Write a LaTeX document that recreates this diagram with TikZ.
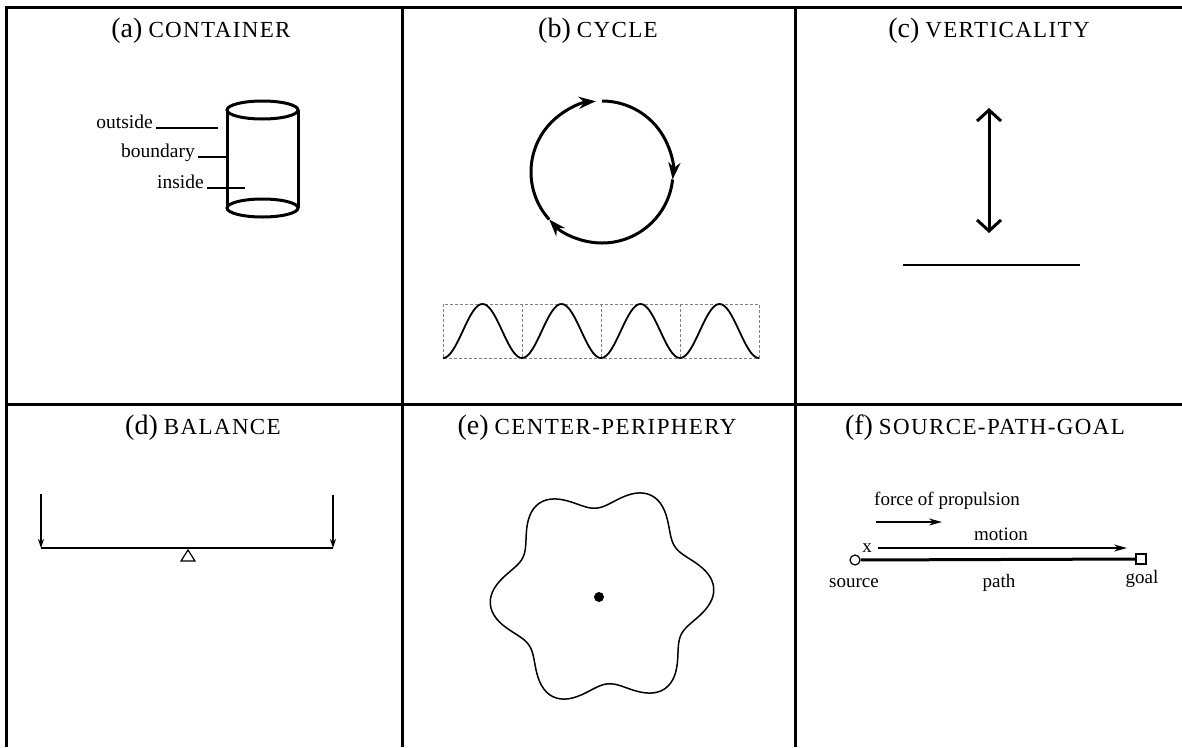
\documentclass[tikz,border=0pt]{standalone}
\usepackage{fontspec}
\setmainfont{Liberation Serif}
\newfontfamily\capsfont[LetterSpace=6]{Liberation Serif}
\usetikzlibrary{arrows.meta,positioning,calc}
\tikzset{
  frame/.style={line width=3pt},
  title/.style={font=\fontsize{28}{32}\selectfont, anchor=base, inner sep=0pt},
  lbl/.style={font=\fontsize{19.5}{21}\selectfont, inner sep=3pt},
  plbl/.style={font=\fontsize{19}{21}\selectfont, inner sep=0pt, anchor=base},
  heavy/.style={line width=3pt},
  leader/.style={line width=2.6pt},
  cyc/.style={line width=3pt, -{Stealth[length=17pt,width=12pt]}},
  gridline/.style={densely dashed, gray, line width=0.6pt},
  wave/.style={line width=1.8pt},
  updown/.style={line width=3pt, {Straight Barb[length=11pt,width=24pt]}-{Straight Barb[length=11pt,width=24pt]}},
  weight/.style={line width=1.3pt, -{Stealth[length=9pt,width=6pt]}},
  thinarrow/.style={line width=1.6pt, -{Stealth[length=13pt,width=7pt]}},
}
\newcommand{\schema}[2]{(#1)\kern6pt{\capsfont\fontsize{23}{26}\selectfont #2}}

\begin{document}
\begin{tikzpicture}[x=1pt,y=-1pt]
  \useasboundingbox (0,0) rectangle (1182,747);
  % table rules
  \draw[frame] (6,747) -- (6,7) -- (1182,7);
  \draw[frame] (6,404) -- (1182,404);
  \draw[frame] (402,7) -- (402,747);
  \draw[frame] (795,7) -- (795,747);

  \node[title] (ta) at (201,37) {\schema{a}{CONTAINER}};
  \node[title] (tb) at (598,37) {\schema{b}{CYCLE}};
  \node[title] (tc) at (989,37) {\schema{c}{VERTICALITY}};
  \node[title] (td) at (203,434) {\schema{d}{BALANCE}};
  \node[title] (te) at (597,434) {\schema{e}{CENTER-PERIPHERY}};
  \node[title] (tf) at (985,434) {\schema{f}{SOURCE-PATH-GOAL}};

  % (a) container
  \draw[heavy] (262.5,110) ellipse[x radius=35.5, y radius=9];
  \draw[heavy] (262.5,208) ellipse[x radius=35.5, y radius=9];
  \draw[heavy] (227,110) -- (227,208);
  \draw[heavy] (298,110) -- (298,208);
  \node[lbl, anchor=base east] (outside) at (156,128) {outside};
  \node[lbl, anchor=base east] (boundary) at (198,157) {boundary};
  \node[lbl, anchor=base east] (inside) at (207,188) {inside};
  \coordinate (outsideEnd) at (218,128);
  \coordinate (boundaryEnd) at (227,157);
  \coordinate (insideEnd) at (245,188);
  \draw[leader] (outside.base east) -- (outsideEnd);
  \draw[leader] (boundary.base east) -- (boundaryEnd);
  \draw[leader] (inside.base east) -- (insideEnd);

  % (b) cycle
  \coordinate (ring) at (602,172);
  \draw[cyc] ([shift={(-90:71)}]ring) arc[start angle=-90, end angle=6, radius=71];
  \draw[cyc] ([shift={(6:71)}]ring) arc[start angle=6, end angle=138, radius=71];
  \draw[cyc] ([shift={(138:71)}]ring) arc[start angle=138, end angle=265, radius=71];
  \draw[gridline] (443,304) rectangle (759,358);
  \foreach \k in {1,2,3}
    \draw[gridline] ({443+79*\k},304) -- ({443+79*\k},358);
  \draw[wave] plot[domain=0:4, samples=161, smooth] ({443+79*\x},{331+27*cos(360*\x)});

  % (c) verticality
  \coordinate (vtop) at (989,108);
  \coordinate (vbot) at (989,233);
  \draw[updown] (vtop) -- (vbot);
  \coordinate (groundL) at (903,265);
  \coordinate (groundR) at (1080,265);
  \draw[line width=1.2pt] (groundL) -- (groundR);

  % (d) balance
  \coordinate (beamL) at (41,548);
  \coordinate (beamR) at (333,548);
  \draw[line width=1.4pt] (beamL) -- (beamR);
  \draw[weight] (41,494) -- (beamL);
  \draw[weight] (333,495) -- (beamR);
  \draw[line width=1.2pt] (188,550) -- (195,561) -- (181,561) -- cycle;

  % (e) center-periphery
  \fill (599,597) circle[radius=5];
  \draw[line width=1.5pt] plot[domain=0:360, samples=181, smooth cycle]
    ({602+(100+12*cos(6*(\x-4)))*cos(\x)},{596-(100+12*cos(6*(\x-4)))*sin(\x)});

  % (f) source-path-goal
  \node[circle, draw, line width=1.2pt, minimum size=10pt, inner sep=0pt] (src) at (855,560) {};
  \node[rectangle, draw, line width=1.4pt, minimum size=10pt, inner sep=0pt] (goal) at (1141,559) {};
  \draw[heavy] (src) -- (goal);
  \node[plbl] (force) at (947,505) {force of propulsion};
  \coordinate (pushA) at (876,522);
  \coordinate (pushB) at (942,522);
  \draw[thinarrow] (pushA) -- (pushB);
  \node[plbl] (motion) at (1001,540) {motion};
  \node[plbl] (mover) at (867,552) {x};
  \coordinate (moveB) at (1127,548);
  \draw[thinarrow] (mover.east |- moveB) ++(6,0) -- (moveB);
  \node[plbl] (srclbl) at (854,587) {source};
  \node[plbl] (pathlbl) at (999,587) {path};
  \node[plbl] (goallbl) at (1142,583) {goal};
\end{tikzpicture}
\end{document}
